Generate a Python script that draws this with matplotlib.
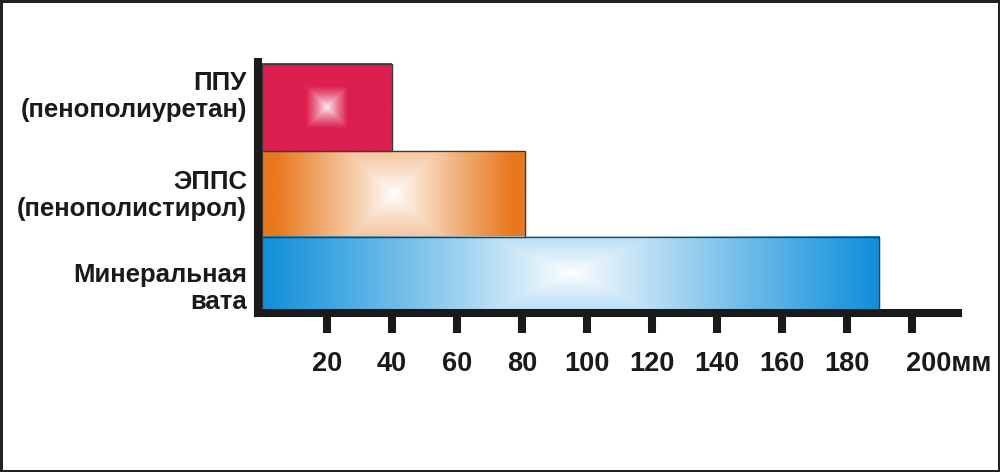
import numpy as np
import matplotlib
matplotlib.use('Agg')
import matplotlib.pyplot as plt
from matplotlib.colors import to_rgb
import matplotlib.transforms as mtransforms

plt.rcParams['font.family'] = ['Liberation Sans', 'DejaVu Sans']

# data
materials = ['ППУ\n(пенополиуретан)', 'ЭППС\n(пенополистирол)', 'Минеральная\nвата']
thickness = [40, 81, 190]  # mm
colors = ['#dc1f4f', '#e8781c', '#1190da']
xticks = [20, 40, 60, 80, 100, 120, 140, 160, 180, 200]
xticklabels = ['20', '40', '60', '80', '100', '120', '140', '160', '180', '200мм']

# layout (bar placement in axis units)
bar_bottom = [1.91, 0.90, 0.035]
bar_height = [1.03, 1.01, 0.865]
label_y = [2.6, 1.43, 0.34]
# gradient shape: half size of white patch in px (x, y)
grad_size = [(21, 21), (118, 110), (305, 140)]
grad_power = [0.75, 0.9, 0.9]

px_x = 3.2475   # px per mm
px_y = 84.67    # px per y unit


def gradient_img(color, w_px, h_px, sx, sy, p):
    xs = np.linspace(-w_px / 2, w_px / 2, int(w_px))
    ys = np.linspace(-h_px / 2, h_px / 2, int(h_px))
    X, Y = np.meshgrid(xs, ys)
    t = np.maximum(np.abs(X) / sx, np.abs(Y) / sy)
    t = np.clip(t, 0, 1) ** p
    base = np.array(to_rgb(color))
    img = (1 - t[..., None]) * np.ones(3) + t[..., None] * base
    return img


fig = plt.figure(figsize=(10, 4.72), dpi=100)
fig.patch.set_edgecolor('#222222')
fig.patch.set_linewidth(2.5)
ax = fig.add_axes([258 / 1000, (472 - 313) / 472, 700 / 1000, 251 / 472])

for i in range(len(materials)):
    b, h, v = bar_bottom[i], bar_height[i], thickness[i]
    ax.barh(b, v, height=h, align='edge', color=colors[i],
            edgecolor='#3a3a3a', linewidth=0.9, zorder=2)
    img = gradient_img(colors[i], v * px_x, h * px_y,
                       grad_size[i][0], grad_size[i][1], grad_power[i])
    ax.imshow(img, extent=(0, v, b, b + h), aspect='auto',
              interpolation='bilinear', zorder=2.5)
    ax.barh(b, v, height=h, align='edge', fill=False,
            edgecolor='#3a3a3a', linewidth=0.9, zorder=3)

ax.set_xlim(-4 / px_x, 700 / px_x - 4 / px_x)
ax.set_ylim(0, 251 / px_y)

for s in ['top', 'right']:
    ax.spines[s].set_visible(False)
for s in ['left', 'bottom']:
    ax.spines[s].set_linewidth(5.8)
    ax.spines[s].set_color('#1a1a1a')
    ax.spines[s].set_zorder(4)

ax.set_xticks(xticks)
ax.set_xticklabels(xticklabels, fontsize=19.5, fontweight='bold', color='#1a1a1a')
ax.tick_params(axis='x', length=14.4, width=5.8, color='#1a1a1a', pad=13)
last = ax.get_xticklabels()[-1]
last.set_horizontalalignment('left')
last.set_transform(last.get_transform() +
                   mtransforms.ScaledTranslation(-6 / 100, 0, fig.dpi_scale_trans))

ax.set_yticks(label_y)
ax.set_yticklabels(materials, fontsize=18.5, fontweight='bold', color='#1a1a1a',
                   linespacing=1.15)
ax.tick_params(axis='y', length=0, pad=8)

fig.savefig('out.png', dpi=100)
